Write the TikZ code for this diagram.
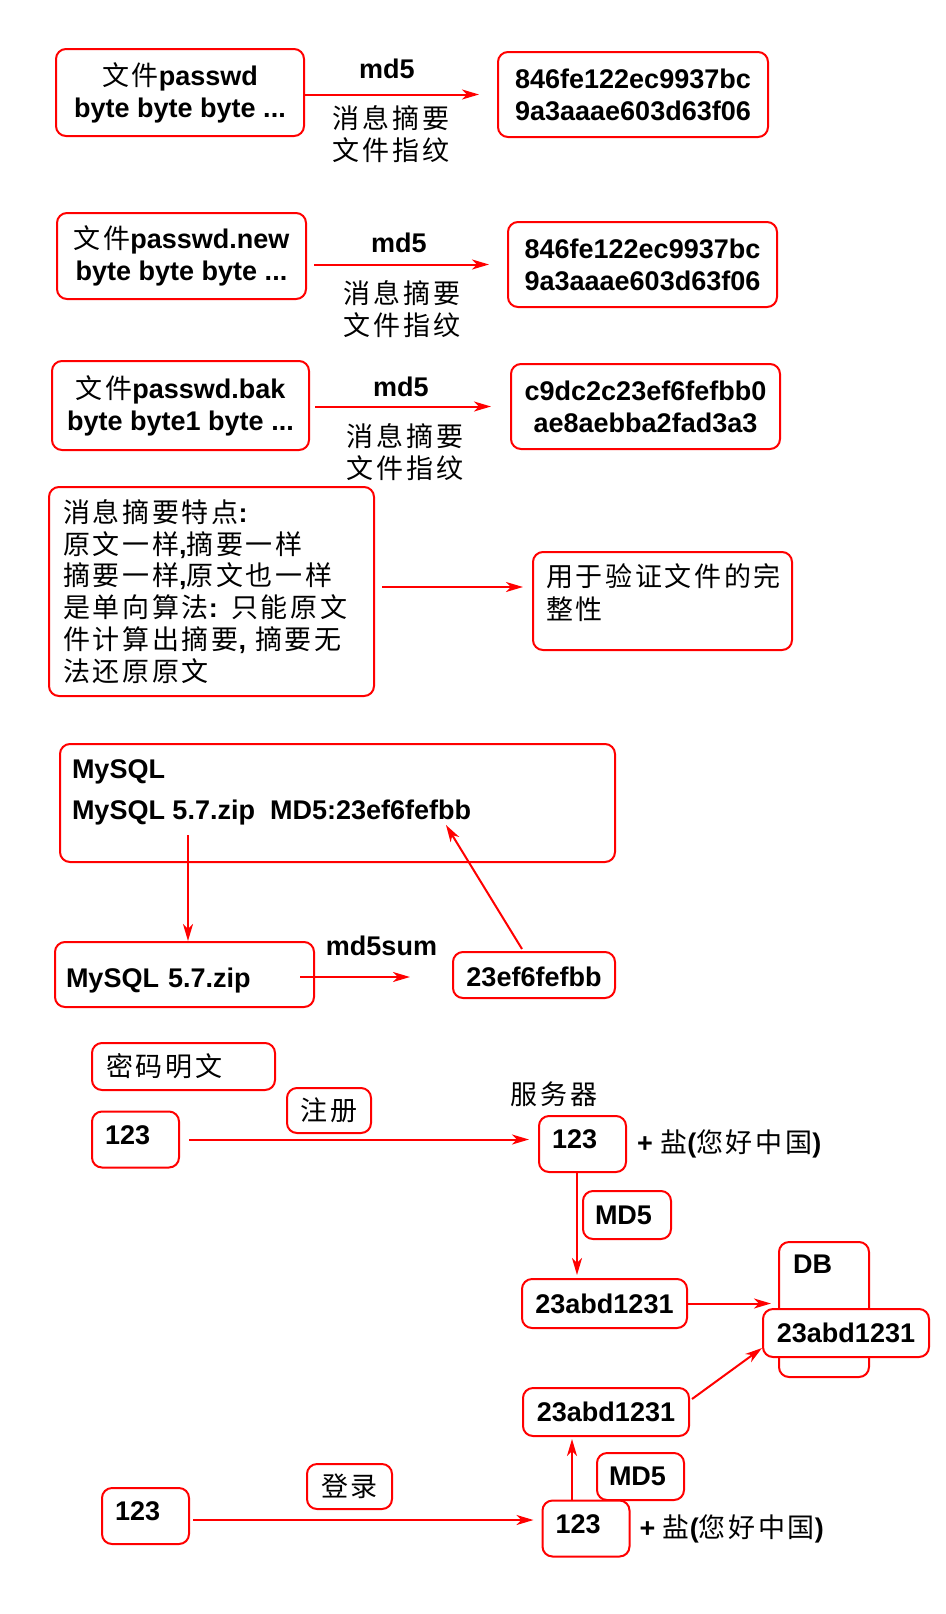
\documentclass[tikz,border=0pt]{standalone}
\usepackage{fontspec}
\setmainfont{Liberation Sans}
\newfontfamily\cjk{Noto Sans CJK SC}[LetterSpace=10]
\usetikzlibrary{arrows.meta,positioning}
\newcommand\zh[1]{{\cjk\mdseries#1}}
\newcommand\boxfont{\fontsize{27}{32}\selectfont\bfseries}
\begin{document}
\begin{tikzpicture}[x=1pt, y=-1pt, line width=2pt,
		box/.style={draw=red, rounded corners=10pt, fill=white, inner sep=0pt, align=center, font=\boxfont},
		lbox/.style={box, align=left, inner xsep=#1},
		numbox/.style={lbox=13pt, text width=61pt, minimum height=56pt, text depth=9pt},
		lab/.style={inner sep=0pt, align=center, font=\boxfont},
		arr/.style={red, -{Stealth[length=17pt, width=10pt, inset=5pt]}}
		]
	\useasboundingbox (0,0) rectangle (945,1614);

	\node [box, minimum width=248pt, minimum height=87pt] (a1) at (180,92.5) {\zh{文件}passwd\\byte byte byte ...};
	\node [box, minimum width=270pt, minimum height=85pt] (b1) at (633,94.5) {846fe122ec9937bc\\9a3aaae603d63f06};
	\node [lab] (m1) at (387,69) {md5};
	\node [lab] (n1) at (391,134) {\zh{消息摘要}\\\zh{文件指纹}};

	\node [box, minimum width=249pt, minimum height=86pt] (a2) at (181.5,256) {\zh{文件}passwd.new\\byte byte byte ...};
	\node [box, minimum width=269pt, minimum height=85pt] (b2) at (642.5,264.5) {846fe122ec9937bc\\9a3aaae603d63f06};
	\node [lab] (m2) at (399,243) {md5};
	\node [lab] (n2) at (402,309) {\zh{消息摘要}\\\zh{文件指纹}};

	\node [box, minimum width=257pt, minimum height=89pt] (a3) at (180.5,405.5) {\zh{文件}passwd.bak\\byte byte1 byte ...};
	\node [box, minimum width=269pt, minimum height=85pt] (b3) at (645.5,406.5) {c9dc2c23ef6fefbb0\\ae8aebba2fad3a3};
	\node [lab] (m3) at (401,387) {md5};
	\node [lab] (n3) at (405,452) {\zh{消息摘要}\\\zh{文件指纹}};

	\node [lbox=14pt, text width=297pt, minimum height=209pt, font=\fontsize{27}{31.8}\selectfont\bfseries] (c) at (211.5,591.5)
		{\zh{消息摘要特点}:\\\zh{原文一样},\zh{摘要一样}\\\zh{摘要一样},\zh{原文也一样}\\\zh{是单向算法}: \zh{只能原文}\\\zh{件计算出摘要}, \zh{摘要无}\\\zh{法还原原文}};
	\node [box, anchor=north west] (d) at (532,551)
		{\parbox[c][98pt][t]{259pt}{\fontsize{27}{33}\selectfont\leftskip=13pt\vspace*{11.4pt}\zh{用于验证文件的完}\\\zh{整性}}};

	\node [box, anchor=north west] (e) at (59,743)
		{\parbox[c][118pt][t]{555pt}{\fontsize{27}{41}\selectfont\bfseries\leftskip=12pt\vspace*{15.4pt}MySQL\\MySQL 5.7.zip\ \ MD5:23ef6fefbb}};
	\node [lbox=11pt, text width=237pt, minimum height=65pt, text height=25pt, text depth=0pt] (f) at (184.5,974.5) {MySQL 5.7.zip};
	\node [box, minimum width=162pt, minimum height=46pt, text height=22pt, text depth=0pt] (g) at (534,975) {23ef6fefbb};
	\node [lab] (sum) at (381.5,946) {md5sum};

	\node [lbox=14pt, text width=155pt, minimum height=47pt] (pwd) at (183.5,1066.5) {\zh{密码明文}};
	\node [box, minimum width=84pt, minimum height=45pt] (reg) at (329,1110.5) {\zh{注册}};
	\node [numbox] (in1) at (135.5,1139.5) {123};
	\node [lab] (srv) at (554,1094) {\zh{服务器}};
	\node [numbox] (srv1) at (582.5,1144) {123};
	\node [lab, right=9pt of srv1] (salt1) {+ \zh{盐}(\zh{您好中国})};
	\node [lbox=12pt, text width=64pt, minimum height=48pt] (md5a) at (627,1215) {MD5};
	\node [box, minimum width=165pt, minimum height=49pt] (hash1) at (604.5,1303.5) {23abd1231};
	\node [box, minimum width=90pt, minimum height=135pt,
		label={[lab, anchor=north west, xshift=14pt, yshift=-13pt]north west:DB}] (db) at (824,1309.5) {};
	\node [box, minimum width=166pt, minimum height=48pt] (dbval) at (846,1333) {23abd1231};
	\node [box, minimum width=166pt, minimum height=48pt] (hash2) at (606,1412) {23abd1231};
	\node [lbox=12pt, text width=63pt, minimum height=47pt] (md5b) at (640.5,1476.5) {MD5};
	\node [box, minimum width=85pt, minimum height=45pt] (login) at (349.5,1486.5) {\zh{登录}};
	\node [numbox] (in2) at (145.5,1516) {123};
	\node [numbox] (srv2) at (586,1528.5) {123};
	\node [lab, right=8pt of srv2] (salt2) {+ \zh{盐}(\zh{您好中国})};

	\draw [arr] (a1.east |- b1.west) -- ([xshift=-18pt]b1.west);
	\draw [arr] ([xshift=7pt]a2.east |- b2.west) -- ([xshift=-18pt]b2.west);
	\draw [arr] ([xshift=5pt]a3.east |- b3.west) -- ([xshift=-19pt]b3.west);
	\draw [arr] ([xshift=7pt,yshift=4.5pt]c.east) -- ([xshift=-9pt,yshift=4.5pt]c.east -| d.west);
	\draw [arr] ([xshift=3.5pt,yshift=28pt]f.north |- e.south) -- ([xshift=3.5pt]f.north);
	\draw [arr] ([xshift=-15pt,yshift=-2.5pt]f.east) -- ([xshift=-42pt,yshift=-2.5pt]f.east -| g.west);
	\draw [arr] ([xshift=-12pt,yshift=2pt]g.north) -- ([xshift=108.5pt,yshift=38pt]e.south);
	\draw [arr] ([xshift=9pt]in1.east) -- ([xshift=-9pt]in1.east -| srv1.west);
	\draw [arr] ([xshift=-5.5pt]srv1.south) -- ([xshift=-5.5pt,yshift=3pt]srv1.south |- hash1.north);
	\draw [arr] (hash1.east) -- ([xshift=-7pt]hash1.east -| db.west);
	\draw [arr] ([xshift=2pt,yshift=-12pt]hash2.north east) -- ([yshift=10pt]dbval.south west);
	\draw [arr] ([xshift=-14pt]srv2.north) -- ([xshift=-14pt,yshift=-2pt]srv2.north |- hash2.south);
	\draw [arr] ([xshift=3pt,yshift=-4pt]in2.east) -- ([xshift=-8pt,yshift=-4pt]in2.east -| srv2.west);
\end{tikzpicture}
\end{document}
